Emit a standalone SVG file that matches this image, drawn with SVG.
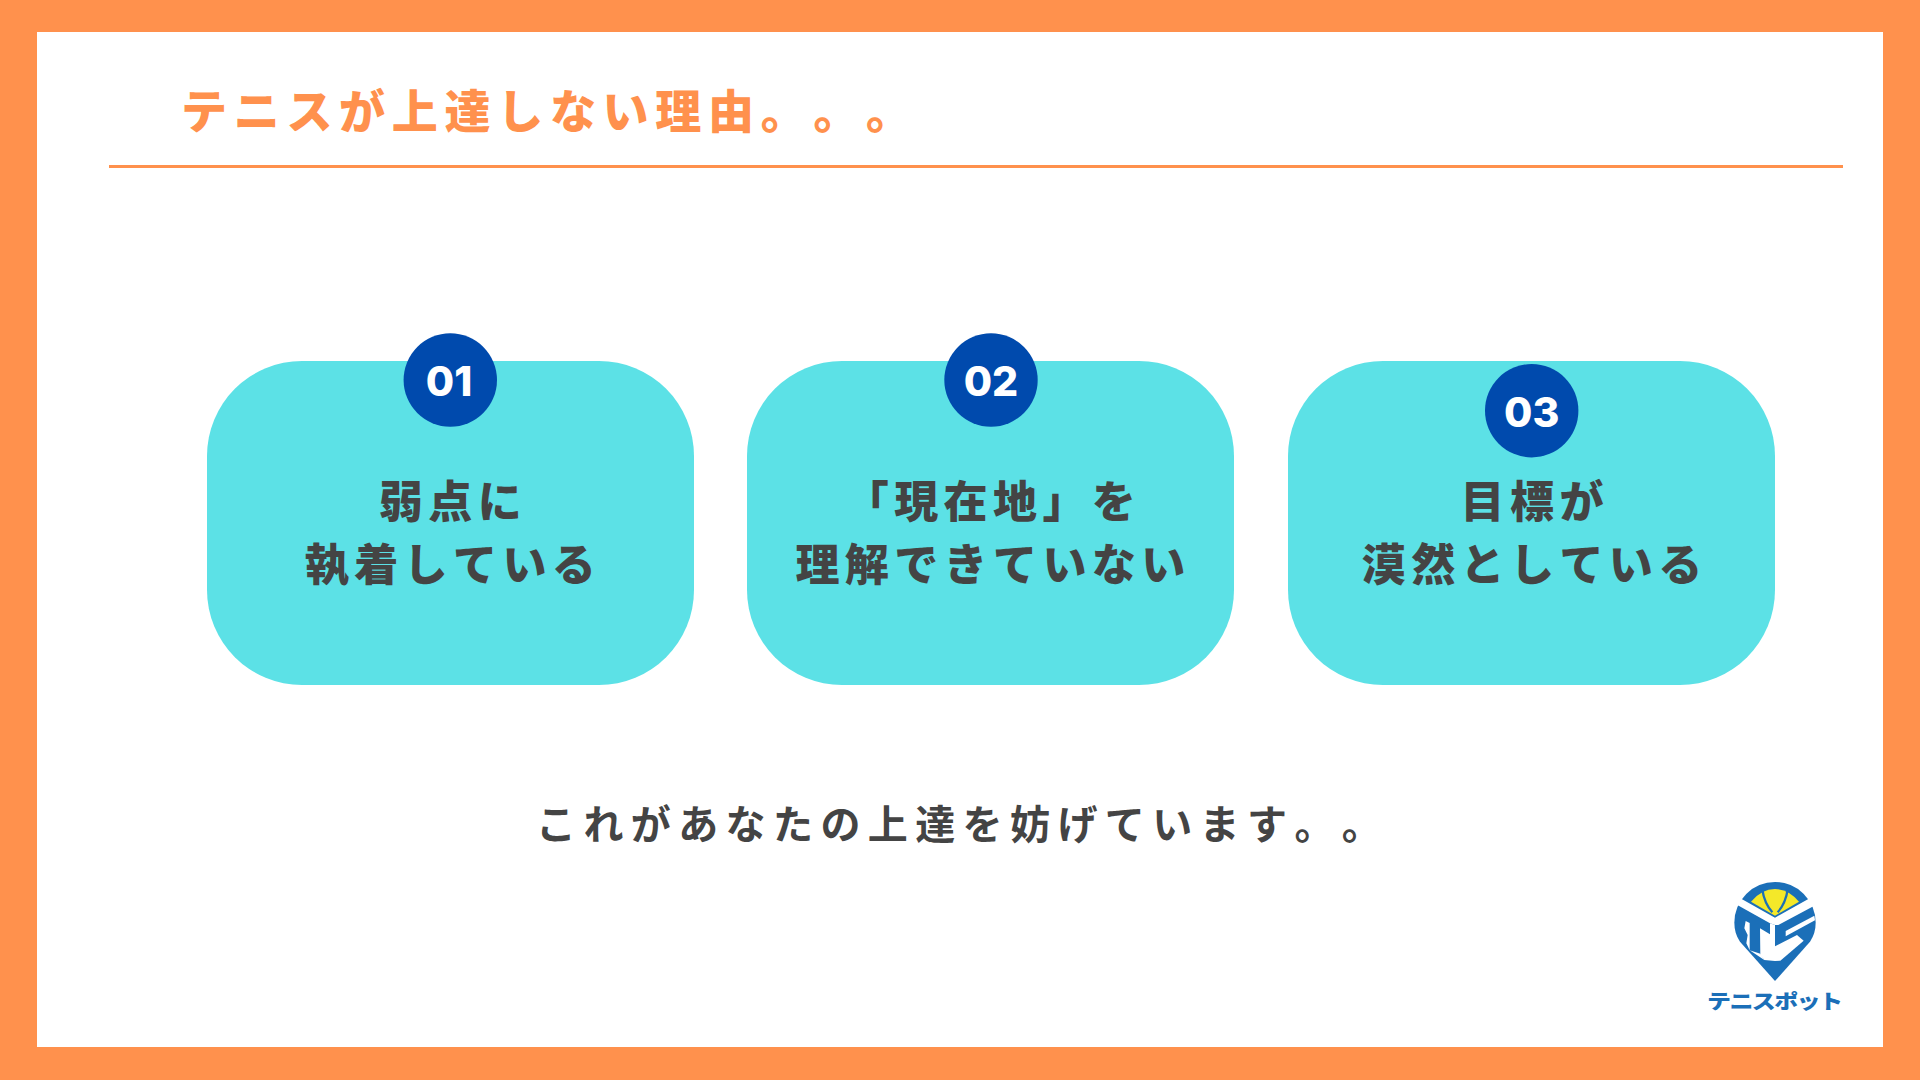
<svg xmlns="http://www.w3.org/2000/svg" width="1920" height="1080" viewBox="0 0 1920 1080">
<style>
text{text-spacing-trim:space-all;font-kerning:none}
.jp{font-family:"Noto Sans CJK JP","Noto Sans",sans-serif}
.card{fill:#5ce1e6}
.badge{fill:#004aad}
.num{font-family:Inter,"Liberation Sans",sans-serif;font-weight:800;font-size:41px;fill:#fff;text-anchor:middle}
.lab{font-weight:900;font-size:44px;letter-spacing:5.4px;fill:#444;text-anchor:middle}
.w{fill:#fff}
.b{fill:#1b6fb8}
</style>
<rect width="1920" height="1080" fill="#ff914d"/>
<rect x="37" y="32" width="1846" height="1015" fill="#fff"/>
<g id="header">
<text class="jp" x="181" y="128" font-size="46" font-weight="900" letter-spacing="6.7" fill="#ff914d">テニスが上達しない理由。。。</text>
<rect x="109" y="165" width="1734" height="3" fill="#ff914d"/>
</g>
<g id="card1">
<rect class="card" x="207" y="361" width="487" height="324" rx="95"/>
<circle class="badge" cx="450.3" cy="380" r="46.7"/>
<text class="num" x="449" y="396">01</text>
<text class="jp lab" x="453" y="518">弱点に</text>
<text class="jp lab" x="453" y="581">執着している</text>
</g>
<g id="card2">
<rect class="card" x="747" y="361" width="487" height="324" rx="95"/>
<circle class="badge" cx="991" cy="380" r="46.7"/>
<text class="num" x="991" y="396">02</text>
<text class="jp lab" x="993" y="518">「現在地」を</text>
<text class="jp lab" x="993" y="581">理解できていない</text>
</g>
<g id="card3">
<rect class="card" x="1288" y="361" width="487" height="324" rx="95"/>
<circle class="badge" cx="1531.7" cy="410.7" r="46.7"/>
<text class="num" x="1531.7" y="426.5">03</text>
<text class="jp lab" x="1534.7" y="518">目標が</text>
<text class="jp lab" x="1534.7" y="581">漠然としている</text>
</g>
<g id="caption">
<text class="jp" x="536" y="839" font-size="40" font-weight="700" letter-spacing="7.4" fill="#444">これがあなたの上達を妨げています。。</text>
</g>
<g id="logo">
<g transform="translate(1725 875) scale(.33333)">
<path class="b" d="M150,318 L45,200 Q28,175 28,143 A122,122 0 0 1 272,143 Q272,175 255,200 Z"/>
<path d="M78,80 Q110,42 150,42 Q190,42 222,80 L150,122 Z" fill="#f4e829"/>
<path d="M112,44 Q118,85 142,112 M188,44 Q182,85 158,112" fill="none" stroke="#1b6fb8" stroke-width="7"/>
<polygon class="w" points="15,68 50,72 150,128 250,72 285,68 285,80 268,92 160,150 150,150 135,145 37,90 15,80"/>
<polygon class="w" points="62,138 74,144 74,226 64,205 68,180 58,160"/>
<polygon class="w" points="105,160 135,178 135,145 150,150 150,258 118,255 106,240"/>
<polygon class="w" points="74,226 106,236 118,255"/>
<polygon class="w" points="182,168 268,122 270,136 182,184"/>
<polygon class="w" points="165,206 216,180 236,197 166,257 150,258 150,214"/>
</g>
<text class="jp" transform="translate(1707 1009) scale(1 .85)" font-size="24" font-weight="900" letter-spacing="-1.6" fill="#1b6fb8">テニスポット</text>
</g>
</svg>
